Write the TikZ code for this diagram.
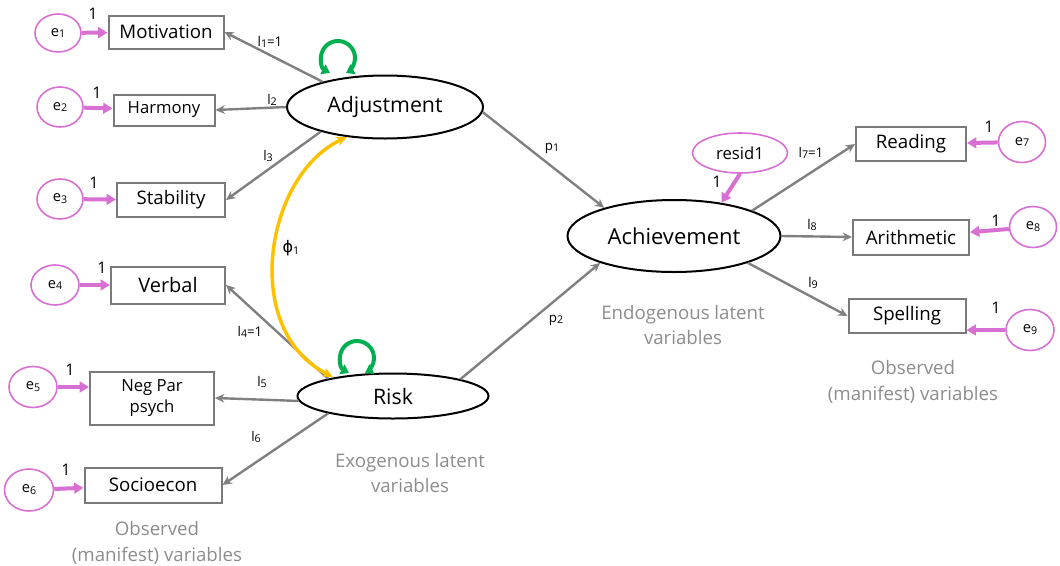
\documentclass[tikz,border=0pt]{standalone}
\usepackage{fontspec}
\setmainfont{Open Sans}
\newfontfamily\grk{DejaVu Sans}
\usetikzlibrary{arrows.meta,shapes.geometric}
\newcommand\pxu{0.75pt}
\newcommand\sbs[1]{\raisebox{-0.25ex}{\fontsize{8}{9}\selectfont #1}}
\definecolor{pinkc}{HTML}{D86FD2}
\definecolor{greyc}{HTML}{808080}
\definecolor{boxc}{HTML}{7A7A7A}
\definecolor{annc}{HTML}{8C8C8C}
\definecolor{greenc}{HTML}{00B050}
\definecolor{yellc}{HTML}{FFC000}
\tikzset{
  obsbox/.style={draw=boxc,line width=1.5pt,rectangle,inner sep=0pt,font=\fontsize{14}{16}\selectfont},
  errell/.style={draw=pinkc,line width=1.2pt,ellipse,inner sep=0pt,font=\fontsize{11}{12}\selectfont},
  latell/.style={draw=black,line width=1.5pt,ellipse,inner sep=0pt,font=\fontsize{16}{18}\selectfont},
  load/.style={draw=greyc,line width=1.8pt,-{Stealth[length=7pt,width=6.5pt]}},
  errarr/.style={draw=pinkc,line width=3pt,-{Triangle[length=7pt,width=8pt]}},
  loopar/.style={draw=greenc,line width=3pt,{Triangle[length=6pt,width=8pt]}-{Triangle[length=6pt,width=8pt]}},
  covar/.style={draw=yellc,line width=2.6pt,{Stealth[length=8pt,width=7pt]}-{Stealth[length=8pt,width=7pt]}},
  lab/.style={inner sep=0pt,font=\fontsize{10}{11}\selectfont},
  one/.style={inner sep=0pt,font=\fontsize{12}{13}\selectfont},
  ann/.style={inner sep=0pt,text=annc,align=center,font=\fontsize{14}{19}\selectfont},
}
\begin{document}
\begin{tikzpicture}[x=0.75pt,y=-0.75pt]
\useasboundingbox (0,0) rectangle (1060,565);
% observed boxes left
\node[obsbox,minimum width=115*\pxu,minimum height=33*\pxu] (mot) at (166,32) {Motivation};
\node[obsbox,minimum width=101*\pxu,minimum height=31*\pxu,font=\fontsize{12.5}{14}\selectfont] (har) at (164,110) {Harmony};
\node[obsbox,minimum width=108*\pxu,minimum height=34*\pxu] (sta) at (171,200) {Stability};
\node[obsbox,minimum width=114*\pxu,minimum height=37*\pxu,font=\fontsize{15}{17}\selectfont] (ver) at (168,285) {Verbal};
\node[obsbox,minimum width=124*\pxu,minimum height=53*\pxu,align=center,font=\fontsize{12.5}{16}\selectfont] (neg) at (152,398) {Neg Par\\psych};
\node[obsbox,minimum width=137*\pxu,minimum height=35*\pxu] (soc) at (153,485) {Socioecon};
% observed boxes right
\node[obsbox,minimum width=110*\pxu,minimum height=34*\pxu] (rea) at (911,144) {Reading};
\node[obsbox,minimum width=116*\pxu,minimum height=35*\pxu] (ari) at (911,237) {Arithmetic};
\node[obsbox,minimum width=117*\pxu,minimum height=34*\pxu] (spe) at (907,316) {Spelling};
% error ellipses
\node[errell,minimum width=46*\pxu,minimum height=38*\pxu] (e1) at (58,33) {e\sbs{1}};
\node[errell,minimum width=46*\pxu,minimum height=40*\pxu] (e2) at (60,107) {e\sbs{2}};
\node[errell,minimum width=46*\pxu,minimum height=40*\pxu] (e3) at (60,199) {e\sbs{3}};
\node[errell,minimum width=48*\pxu,minimum height=40*\pxu] (e4) at (55,285) {e\sbs{4}};
\node[errell,minimum width=48*\pxu,minimum height=41*\pxu] (e5) at (33,387) {e\sbs{5}};
\node[errell,minimum width=49*\pxu,minimum height=42*\pxu] (e6) at (29,490) {e\sbs{6}};
\node[errell,minimum width=47*\pxu,minimum height=41*\pxu] (e7) at (1022,142) {e\sbs{7}};
\node[errell,minimum width=47*\pxu,minimum height=41*\pxu] (e8) at (1033,227) {e\sbs{8}};
\node[errell,minimum width=48*\pxu,minimum height=41*\pxu] (e9) at (1030,330) {e\sbs{9}};
\node[errell,minimum width=95*\pxu,minimum height=40*\pxu,font=\fontsize{12.5}{14}\selectfont] (res) at (740,153) {resid1};
% latent
\node[latell,minimum width=196*\pxu,minimum height=63*\pxu] (adj) at (385,107) {Adjustment};
\node[latell,minimum width=191*\pxu,minimum height=45*\pxu] (risk) at (393,396) {Risk};
\node[latell,minimum width=213*\pxu,minimum height=72*\pxu,font=\fontsize{16.5}{18}\selectfont] (ach) at (674,236) {Achievement};
% error arrows
\draw[errarr] (e1) -- (mot);
\draw[errarr] (e2) -- (har);
\draw[errarr] (e3) -- (sta);
\draw[errarr] (e4) -- (ver);
\draw[errarr] (e5.east) -- (neg.west|-e5.east);
\draw[errarr] (e6) -- (soc);
\draw[errarr] (e7) -- (rea);
\draw[errarr] (e8) -- (ari);
\draw[errarr] (e9.west) -- (spe.east|-e9.west);
\draw[errarr] (res.south) -- (ach.35);
% loadings
\draw[load] (adj.158) -- (mot.east);
\draw[load] (adj.west) -- (har.east);
\draw[load] (adj.201) -- (sta.east);
\draw[load] (risk.165) -- (ver.east);
\draw[load] (risk.183) -- (neg.east);
\draw[load] (risk.195) -- (soc.east);
\draw[load] (ach.18) -- (rea.west);
\draw[load] (ach.east) -- (ari.west);
\draw[load] (ach.340) -- (spe.west);
% paths
\draw[load] (adj.-3) -- (ach.158);
\draw[load] (risk.14) -- (ach.200);
% self loops
\draw[loopar] (330,73) arc[start angle=118,end angle=422,radius=17];
\draw[loopar] (349,373) arc[start angle=118,end angle=422,radius=17];
% covariance
\coordinate (covA) at (347,137);
\coordinate (covB) at (333,377);
\draw[covar] (covA) .. controls (265,175) and (240,330) .. (covB);
% labels
\node[one] (o1) at (93,14) {1};
\node[one] (o2) at (97,93) {1};
\node[one] (o3) at (94,183) {1};
\node[one] (o4) at (102,268) {1};
\node[one] (o5) at (70,370) {1};
\node[one] (o6) at (66,470) {1};
\node[one] (o7) at (989,127) {1};
\node[one] (o8) at (996,221) {1};
\node[one] (o9) at (996,308) {1};
\node[one] (o10) at (717,182) {1};
\node[lab] (l1) at (270,42) {l\sbs{1}=1};
\node[lab] (l2) at (272,100) {l\sbs{2}};
\node[lab] (l3) at (268,156) {l\sbs{3}};
\node[lab] (l4) at (250,332) {l\sbs{4}=1};
\node[lab] (l5) at (262,382) {l\sbs{5}};
\node[lab] (l6) at (256,437) {l\sbs{6}};
\node[lab] (l7) at (811,153) {l\sbs{7}=1};
\node[lab] (l8) at (812,225) {l\sbs{8}};
\node[lab] (l9) at (813,283) {l\sbs{9}};
\node[lab] (p1) at (552,148) {p\sbs{1}};
\node[lab] (p2) at (556,320) {p\sbs{2}};
\node[lab] (phi) at (291,248) {{\grk\fontsize{12}{13}\selectfont ϕ}\sbs{1}};
% annotations
\node[ann] (an1) at (410,473) {Exogenous latent\\variables};
\node[ann] (an2) at (157,543) {Observed\\(manifest) variables};
\node[ann] (an3) at (683,325) {Endogenous latent\\variables};
\node[ann] (an4) at (913,382) {Observed\\(manifest) variables};
\end{tikzpicture}
\end{document}
